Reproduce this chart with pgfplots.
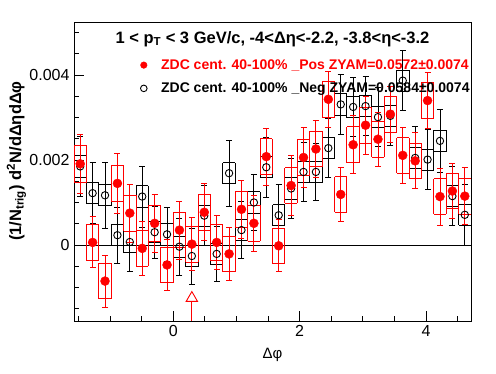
\documentclass[border=0pt]{standalone}
\usepackage{fontspec}
\setmainfont{Liberation Sans}
\usepackage{pgfplots}
\pgfplotsset{compat=1.18}
\usepackage{pgfplotstable}

% Pos (red): x, value, stat error, systematic half-height
\pgfplotstableread{
x y ey sys
-1.4726 0.00191 0.00070 0.00044
-1.2763 0.00006 0.00060 0.00042
-1.0799 -0.00085 0.00061 0.00042
-0.8836 0.00145 0.00070 0.00042
-0.6872 0.00075 0.00068 0.00042
-0.4909 -0.00008 0.00064 0.00042
-0.2945 0.00051 0.00068 0.00042
-0.0982 -0.00047 0.00061 0.00042
0.0982 0.00035 0.00068 0.00042
0.2945 0.00002 0.00063 0.00042
0.4909 0.00077 0.00067 0.00042
0.6872 0.00006 0.00064 0.00042
0.8836 -0.00021 0.00063 0.00042
1.0799 0.00084 0.00068 0.00042
1.2763 0.00051 0.00066 0.00042
1.4726 0.00208 0.00067 0.00042
1.6690 -0.00002 0.00061 0.00042
1.8653 0.00140 0.00070 0.00042
2.0617 0.00206 0.00070 0.00042
2.2580 0.00226 0.00067 0.00042
2.4544 0.00343 0.00066 0.00042
2.6507 0.00119 0.00063 0.00042
2.8471 0.00236 0.00068 0.00042
3.0434 0.00282 0.00068 0.00042
3.2398 0.00249 0.00064 0.00042
3.4361 0.00308 0.00066 0.00042
3.6325 0.00211 0.00065 0.00042
3.8288 0.00198 0.00066 0.00042
4.0252 0.00340 0.00066 0.00042
4.2215 0.00114 0.00067 0.00042
4.4179 0.00127 0.00064 0.00042
4.6142 0.00115 0.00067 0.00042
}\pos

% Neg (black)
\pgfplotstableread{
x y ey sys
-1.4726 0.00185 0.00070 0.00025
-1.2763 0.00122 0.00072 0.00025
-1.0799 0.00117 0.00077 0.00025
-0.8836 0.00023 0.00066 0.00025
-0.6872 0.00007 0.00070 0.00025
-0.4909 0.00114 0.00072 0.00025
-0.2945 0.00030 0.00061 0.00025
-0.0982 0.00025 0.00064 0.00025
0.0982 -0.00004 0.00067 0.00025
0.2945 -0.00026 0.00066 0.00025
0.4909 0.00069 0.00070 0.00025
0.6872 -0.00021 0.00064 0.00025
0.8836 0.00169 0.00078 0.00025
1.0799 0.00035 0.00067 0.00025
1.2763 0.00100 0.00066 0.00025
1.4726 0.00183 0.00070 0.00025
1.6690 0.00070 0.00073 0.00025
1.8653 0.00133 0.00070 0.00025
2.0617 0.00172 0.00070 0.00025
2.2580 0.00172 0.00068 0.00025
2.4544 0.00228 0.00070 0.00025
2.6507 0.00331 0.00070 0.00025
2.8471 0.00325 0.00070 0.00025
3.0434 0.00327 0.00070 0.00025
3.2398 0.00301 0.00070 0.00025
3.4361 0.00304 0.00070 0.00025
3.6325 0.00387 0.00070 0.00025
3.8288 0.00205 0.00073 0.00025
4.0252 0.00201 0.00070 0.00025
4.2215 0.00245 0.00074 0.00025
4.4179 0.00115 0.00070 0.00025
4.6142 0.00071 0.00072 0.00025
}\neg

\pgfplotstableread{
x y ey
0.2945 -0.00125 0.0015
}\tri

\pgfplotsset{
  hbox/.style={draw=none, mark=none, forget plot,
    error bars/.cd, x dir=both, x fixed=0.09817, error mark=none,
    error bar style={draw=#1, line width=0.9pt, solid}},
  vbox/.style={draw=none, mark=none, forget plot,
    error bars/.cd, y dir=both, y explicit, error mark=none,
    error bar style={draw=#1, line width=0.9pt, solid}},
}

\begin{document}
\begin{tikzpicture}
\path[use as bounding box] (0,0) rectangle (496pt,374pt);
\begin{axis}[
  at={(74pt,53pt)}, anchor=south west,
  width=397pt, height=299pt, scale only axis,
  xmin=-1.5708, xmax=4.7124, ymin=-0.00179, ymax=0.00525,
  axis line style={line width=0.9pt},
  tick pos=left, tick align=inside,
  every tick/.style={black, line width=0.9pt},
  major tick length=9.5pt, minor tick length=5pt,
  xtick={0,2,4}, xticklabels={0,2,4},
  minor xtick={-1.5,-1,-0.5,0.5,1,1.5,2.5,3,3.5,4.5},
  ytick={0,0.002,0.004}, yticklabels={0,0.002,0.004},
  minor ytick={-0.0015,-0.001,-0.0005,0.0005,0.001,0.0015,0.0025,0.003,0.0035,0.0045,0.005},
  scaled y ticks=false,
  /pgf/number format/assume math mode=true,
  tick label style={font=\fontsize{16}{18}\selectfont},
  xticklabel style={yshift=-1pt},
  yticklabel style={xshift=-1pt},
  xlabel={Δφ},
  xlabel style={font=\fontsize{15}{18}\selectfont, at={(axis description cs:0.5,-0.113)}, anchor=center},
  ylabel={(1/N\textsubscript{trig}) d\textsuperscript{2}N/dΔηdΔφ},
  ylabel style={font=\bfseries\fontsize{16.5}{18}\selectfont, at={(axis description cs:-0.145,0.535)}, anchor=center},
  legend style={draw=none, fill=none, font=\bfseries\fontsize{14}{16}\selectfont,
    at={(axis description cs:0.167,0.882)}, anchor=north west,
    row sep=8pt, inner sep=0pt,
    /tikz/every odd column/.append style={column sep=12pt}},
  legend cell align=left,
]
\addlegendimage{only marks, mark=*, red, mark size=3.3pt}
\addlegendentry{\textcolor{red}{ZDC cent. 40-100\% \_Pos ZYAM=0.0572±0.0074}}
\addlegendimage{only marks, mark=o, black, mark size=3.3pt, mark options={line width=0.9pt}}
\addlegendentry{ZDC cent. 40-100\% \_Neg ZYAM=0.0584±0.0074}

% zero line
\addplot[black, line width=0.9pt, forget plot] coordinates {(-1.5708,0) (4.7124,0)};

% ---- Neg (black) systematic boxes
\addplot[hbox=black] table[x=x, y expr=\thisrow{y}+\thisrow{sys}]{\neg};
\addplot[hbox=black] table[x=x, y expr=\thisrow{y}-\thisrow{sys}]{\neg};
\addplot[vbox=black] table[x expr=\thisrow{x}-0.09817, y=y, y error=sys]{\neg};
\addplot[vbox=black] table[x expr=\thisrow{x}+0.09817, y=y, y error=sys]{\neg};
% Neg points with stat errors
\addplot[black, only marks, mark=o, mark size=3.7pt, mark options={line width=0.9pt}, forget plot,
  error bars/.cd, y dir=both, y explicit,
  error bar style={line width=0.9pt},
  error mark options={rotate=90, mark size=3pt, line width=0.9pt}]
  table[x=x, y=y, y error=ey]{\neg};

% ---- Pos (red) systematic boxes
\addplot[hbox=red] table[x=x, y expr=\thisrow{y}+\thisrow{sys}]{\pos};
\addplot[hbox=red] table[x=x, y expr=\thisrow{y}-\thisrow{sys}]{\pos};
\addplot[vbox=red] table[x expr=\thisrow{x}-0.09817, y=y, y error=sys]{\pos};
\addplot[vbox=red] table[x expr=\thisrow{x}+0.09817, y=y, y error=sys]{\pos};
% Pos points with stat errors
\addplot[red, only marks, mark=*, mark size=4.5pt, forget plot,
  error bars/.cd, y dir=both, y explicit,
  error bar style={line width=0.9pt},
  error mark options={rotate=90, mark size=3pt, line width=0.9pt}]
  table[x=x, y=y, y error=ey]{\pos};

% red open triangle
\addplot[red, only marks, mark=triangle*, mark size=6.5pt, mark options={fill=white, line width=0.9pt}, forget plot,
  error bars/.cd, y dir=minus, y explicit, error bar style={line width=0.9pt}, error mark=none]
  table[x=x, y=y, y error=ey]{\tri};

\node[font=\bfseries\fontsize{16.5}{18}\selectfont, anchor=base] at (axis description cs:0.5,0.929)
  {1 < p\textsubscript{T} < 3 GeV/c, -4<Δη<-2.2, -3.8<η<-3.2};
\end{axis}
\end{tikzpicture}
\end{document}
